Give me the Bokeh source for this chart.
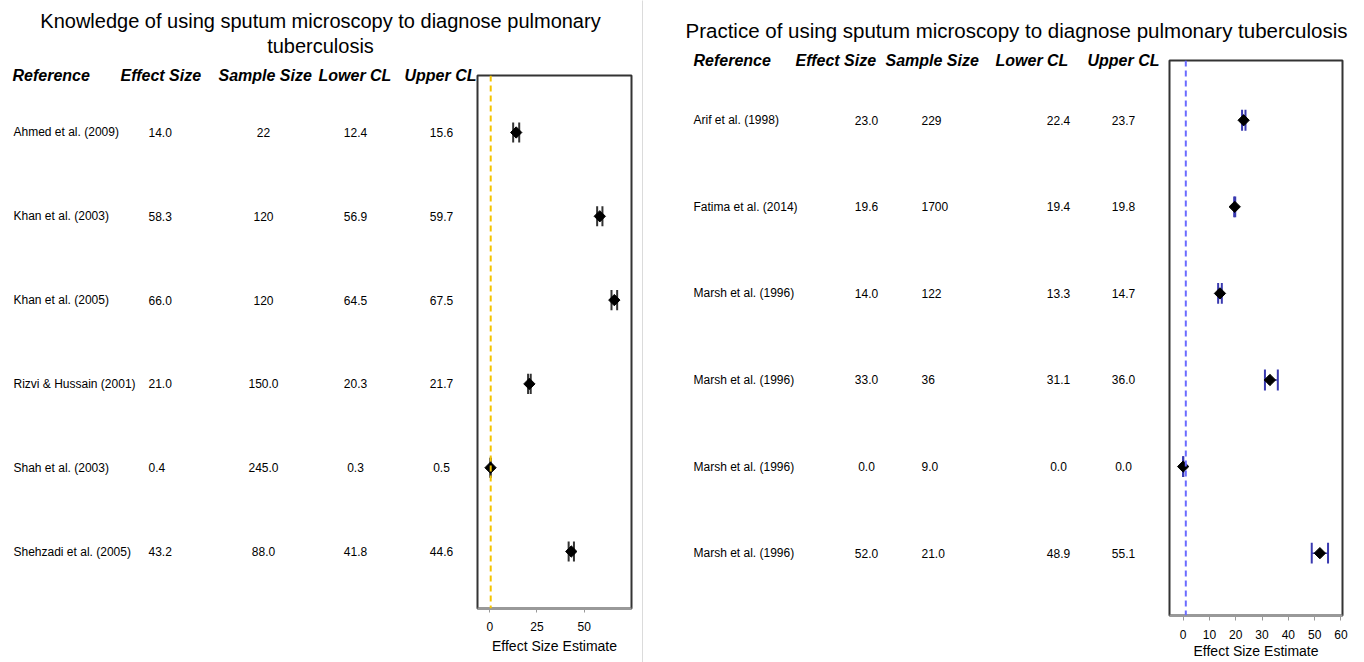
import numpy as np
from bokeh.plotting import figure
from bokeh.models import ColumnDataSource, Span, FixedTicker, Range1d
from bokeh.layouts import row, column
from bokeh.core.properties import value
from bokeh.embed import file_html
from bokeh.resources import INLINE

# ---------------- data ----------------
k_title = ["Knowledge of using sputum microscopy to diagnose pulmonary", "tuberculosis"]
k_refs = ["Ahmed et al. (2009)", "Khan et al. (2003)", "Khan et al. (2005)",
          "Rizvi & Hussain (2001)", "Shah et al. (2003)", "Shehzadi et al. (2005)"]
k_effect = [14.0, 58.3, 66.0, 21.0, 0.4, 43.2]
k_sample = ["22", "120", "120", "150.0", "245.0", "88.0"]
k_lower = [12.4, 56.9, 64.5, 20.3, 0.3, 41.8]
k_upper = [15.6, 59.7, 67.5, 21.7, 0.5, 44.6]
k_refline = 0.5
k_ticks = [0, 25, 50]

p_title = ["Practice of using sputum microscopy to diagnose pulmonary tuberculosis"]
p_refs = ["Arif et al. (1998)", "Fatima et al. (2014)", "Marsh et al. (1996)",
          "Marsh et al. (1996)", "Marsh et al. (1996)", "Marsh et al. (1996)"]
p_effect = [23.0, 19.6, 14.0, 33.0, 0.0, 52.0]
p_sample = ["229", "1700", "122", "36", "9.0", "21.0"]
p_lower = [22.4, 19.4, 13.3, 31.1, 0.0, 48.9]
p_upper = [23.7, 19.8, 14.7, 36.0, 0.0, 55.1]
p_refline = 1.0
p_ticks = [0, 10, 20, 30, 40, 50, 60]

headers = ["Reference", "Effect Size", "Sample Size", "Lower CL", "Upper CL"]
x_label = "Effect Size Estimate"

FONT = "Liberation Sans"
H = 662


def bare(width, height, xr, yr):
    p = figure(width=width, height=height, x_range=xr, y_range=yr,
               output_backend="svg", toolbar_location=None, title=None,
               x_axis_location=None, y_axis_location=None, min_border=0,
               outline_line_color=None, background_fill_color="white",
               border_fill_color="white")
    p.frame_align = False
    p.grid.visible = False
    return p


def panel(width, table_w, title_h, borders, xr, yr, refs, eff, samp, lo, hi,
          refline, ref_color, cap_color, ticks, title_lines, title_x, title_y, title_size,
          header_x, col_x, col_align, tick_out, label_standoff, axis_standoff):
    br, bt, bb = borders
    body_h = H - title_h
    plot_w = width - table_w

    # ---- title strip ----
    tfig = bare(width, title_h, Range1d(0, width), Range1d(title_h, 0))
    tfig.text(x=[title_x] * len(title_lines), y=title_y, text=title_lines,
              text_align="center", text_baseline="middle",
              text_font=value(FONT), text_font_size=title_size, text_color="black")

    # ---- forest plot ----
    p = figure(width=plot_w, height=body_h, x_range=Range1d(*xr), y_range=Range1d(*yr),
               output_backend="svg", toolbar_location=None, title=None,
               y_axis_location=None, min_border_left=1, min_border_right=br,
               min_border_top=bt, min_border_bottom=bb,
               outline_line_color="#333333", outline_line_width=2,
               background_fill_color="white", border_fill_color="white")
    p.frame_align = False
    p.grid.visible = False
    rows = list(range(1, len(refs) + 1))
    cap = 0.12
    src = ColumnDataSource(dict(
        row=rows, ref=refs, eff=eff, lo=lo, hi=hi,
        eff_t=[f"{v:.1f}" for v in eff], samp=samp,
        lo_t=[f"{v:.1f}" for v in lo], hi_t=[f"{v:.1f}" for v in hi],
        ytop=[r - cap for r in rows], ybot=[r + cap for r in rows]))

    p.add_layout(Span(location=refline, dimension="height", line_color=ref_color,
                      line_dash="6 4", line_width=2))
    p.segment(x0="lo", y0="row", x1="hi", y1="row", source=src,
              line_color=cap_color, line_width=1.5)
    p.segment(x0="lo", y0="ytop", x1="lo", y1="ybot", source=src,
              line_color=cap_color, line_width=2)
    p.segment(x0="hi", y0="ytop", x1="hi", y1="ybot", source=src,
              line_color=cap_color, line_width=2)
    p.scatter(x="eff", y="row", source=src, marker="square", angle=np.pi / 4,
              size=8, color="black")

    ax = p.xaxis[0]
    ax.ticker = FixedTicker(ticks=ticks)
    ax.axis_line_color = "#999999"
    ax.axis_line_width = 2
    ax.major_tick_line_color = "#999999"
    ax.major_tick_in = 0
    ax.major_tick_out = tick_out
    ax.minor_tick_line_color = None
    ax.major_label_text_font = FONT
    ax.major_label_text_font_size = "12px"
    ax.major_label_text_color = "black"
    ax.major_label_standoff = label_standoff
    ax.axis_label = x_label
    ax.axis_label_text_font = FONT
    ax.axis_label_text_font_size = "14px"
    ax.axis_label_text_font_style = "normal"
    ax.axis_label_text_color = "black"
    ax.axis_label_standoff = axis_standoff

    # ---- table (rows aligned with the plot frame) ----
    frame_h = body_h - bt - bb
    upp = (yr[0] - yr[1]) / frame_h
    tab = bare(table_w, body_h, Range1d(0, table_w),
               Range1d(yr[0] + bb * upp, yr[1] - bt * upp))
    tab.text(x=header_x, y=[yr[1]] * len(headers), text=headers,
             text_align="left", text_baseline="middle", text_font=value(FONT),
             text_font_size="16px", text_font_style="bold italic", text_color="black")
    for cx, field, al in zip(col_x, ["ref", "eff_t", "samp", "lo_t", "hi_t"], col_align):
        tab.text(x=cx, y="row", text=field, source=src, text_align=al,
                 text_baseline="middle", text_font=value(FONT),
                 text_font_size="12px", text_color="black")

    return column(tfig, row(tab, p))


left = panel(642, 476, 56, (11, 19, 54), (-6.5, 75.1), (6.68, 0.32),
             k_refs, k_effect, k_sample, k_lower, k_upper, k_refline, "#f5c400",
             "#333333", k_ticks, k_title, 320, [20, 45], "20px",
             [12, 120, 218, 318, 404],
             [13, 148, 263, 355, 441], ["left", "left", "center", "center", "center"],
             4, 9, 4)

sep = bare(1, H, Range1d(0, 1), Range1d(0, 1))
sep.background_fill_color = "#b8b8b8"
sep.border_fill_color = "#b8b8b8"

off = 643
right = panel(721, 1168 - off, 48, (22, 12, 47), (-5.2, 60.6), (6.72, 0.31),
              p_refs, p_effect, p_sample, p_lower, p_upper, p_refline, "#6b6bff",
              "#3a3ab0", p_ticks, p_title, 1016 - off, [30], "20.5px",
              [693 - off, 795 - off, 885 - off, 995 - off, 1087 - off],
              [693 - off, 866 - off, 921 - off, 1058 - off, 1123 - off],
              ["left", "center", "left", "center", "center"],
              5, 9, 1)

layout = row(left, sep, right)
open("out.html", "w").write(file_html(layout, INLINE))
